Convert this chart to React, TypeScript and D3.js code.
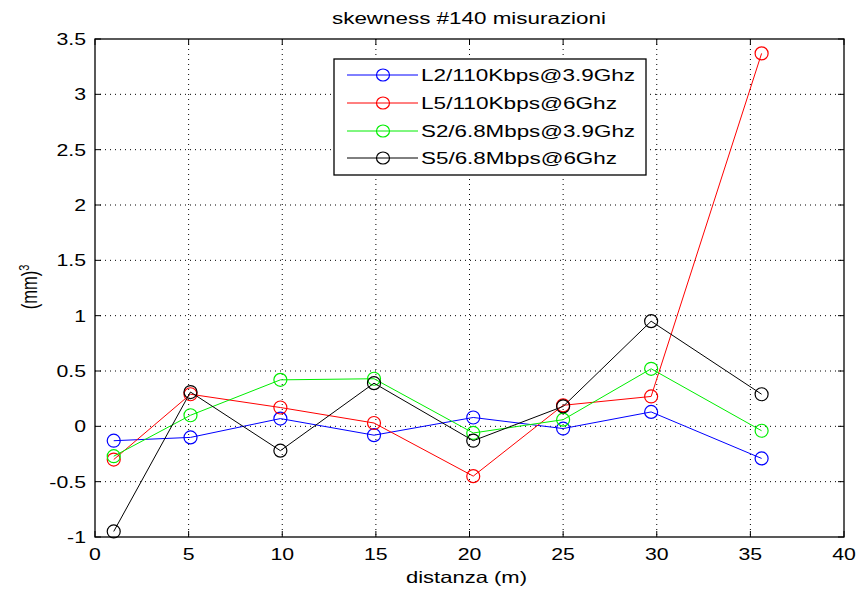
import React from "react";
import * as d3 from "d3";

const distances = [1, 5.1, 9.9, 14.9, 20.2, 25, 29.7, 35.6];
const seriesNames = ["L2/110Kbps@3.9Ghz", "L5/110Kbps@6Ghz", "S2/6.8Mbps@3.9Ghz", "S5/6.8Mbps@6Ghz"];
const seriesColors = ["#0000ff", "#ff0000", "#00ee00", "#000000"];
const l2Values = [-0.13, -0.1, 0.07, -0.08, 0.08, -0.02, 0.13, -0.29];
const l5Values = [-0.3, 0.29, 0.17, 0.03, -0.45, 0.19, 0.27, 3.37];
const s2Values = [-0.27, 0.1, 0.42, 0.43, -0.06, 0.06, 0.52, -0.04];
const s5Values = [-0.95, 0.31, -0.22, 0.39, -0.13, 0.18, 0.95, 0.29];
const xTicks = [0, 5, 10, 15, 20, 25, 30, 35, 40];
const yTicks = [-1, -0.5, 0, 0.5, 1, 1.5, 2, 2.5, 3, 3.5];

const W = 858, H = 596;
const L = 95, R = 844, T = 39, B = 537;
const FONT = "'Liberation Sans', Arial, Helvetica, sans-serif";
const SX = 1.33;

function SText(props: { x: number; y: number; anchor?: string; size?: number; children: React.ReactNode }) {
  const { x, y, anchor = "start", size = 16, children } = props;
  return (
    <text transform={`translate(${x},${y}) scale(${SX},1)`} textAnchor={anchor} fontFamily={FONT} fontSize={size} fill="#000">
      {children}
    </text>
  );
}

export default function App() {
  const x = d3.scaleLinear().domain([0, 40]).range([L, R]);
  const y = d3.scaleLinear().domain([-1, 3.5]).range([B, T]);
  const all = [l2Values, l5Values, s2Values, s5Values];
  const line = d3.line<number>().x((_, i) => x(distances[i])).y((v) => y(v));
  const legX = 334, legY = 59, legW = 312, legH = 116;
  const rowY = [75, 103, 131, 158];
  return (
    <svg width={W} height={H} style={{ position: "absolute", left: 0, top: 0, background: "#fff" }}>
      <rect x={0} y={0} width={W} height={H} fill="#fff" />
      {xTicks.slice(1, -1).map((t) => (
        <line key={"gx" + t} x1={x(t)} x2={x(t)} y1={T} y2={B} stroke="#000" strokeWidth={1} strokeDasharray="1,4" />
      ))}
      {yTicks.slice(1, -1).map((t) => (
        <line key={"gy" + t} x1={L} x2={R} y1={y(t)} y2={y(t)} stroke="#000" strokeWidth={1} strokeDasharray="1,4" />
      ))}
      {xTicks.map((t) => (
        <g key={"tx" + t}>
          <line x1={x(t)} x2={x(t)} y1={B} y2={B - 6} stroke="#000" />
          <line x1={x(t)} x2={x(t)} y1={T} y2={T + 6} stroke="#000" />
          <SText x={x(t)} y={560} anchor="middle">{String(t)}</SText>
        </g>
      ))}
      {yTicks.map((t) => (
        <g key={"ty" + t}>
          <line x1={L} x2={L + 6} y1={y(t)} y2={y(t)} stroke="#000" />
          <line x1={R} x2={R - 6} y1={y(t)} y2={y(t)} stroke="#000" />
          <SText x={86} y={y(t) + 6} anchor="end">{String(t)}</SText>
        </g>
      ))}
      <rect x={L} y={T} width={R - L} height={B - T} fill="none" stroke="#000" strokeWidth={1.3} />
      {all.map((vals, si) => (
        <g key={"s" + si}>
          <path d={line(vals) || ""} fill="none" stroke={seriesColors[si]} strokeWidth={1} />
          {vals.map((v, i) => (
            <circle key={i} cx={x(distances[i])} cy={y(v)} r={6.5} fill="none" stroke={seriesColors[si]} strokeWidth={1.2} />
          ))}
        </g>
      ))}
      <rect x={legX} y={legY} width={legW} height={legH} fill="#fff" stroke="#000" strokeWidth={1.3} />
      {seriesNames.map((n, i) => (
        <g key={"l" + i}>
          <line x1={347} x2={418} y1={rowY[i]} y2={rowY[i]} stroke={seriesColors[i]} strokeWidth={1} />
          <ellipse cx={383} cy={rowY[i]} rx={6.5} ry={6} fill="none" stroke={seriesColors[i]} strokeWidth={1.2} />
          <text x={421} y={rowY[i] + 6} fontFamily={FONT} fontSize={16} fill="#000"
            textLength={n.length === 17 ? 214 : 196} lengthAdjust="spacingAndGlyphs">{n}</text>
        </g>
      ))}
      <text x={332} y={24} fontFamily={FONT} fontSize={16.5} fill="#000" textLength={274} lengthAdjust="spacingAndGlyphs">skewness #140 misurazioni</text>
      <text x={406} y={583} fontFamily={FONT} fontSize={16.5} fill="#000" textLength={121} lengthAdjust="spacingAndGlyphs">distanza (m)</text>
      <text transform="translate(37,287) scale(1.3,1) rotate(-90)" textAnchor="middle" fontFamily={FONT} fontSize={16.5} fill="#000">
        (mm)<tspan dy={-6} fontSize={11}>3</tspan>
      </text>
    </svg>
  );
}
